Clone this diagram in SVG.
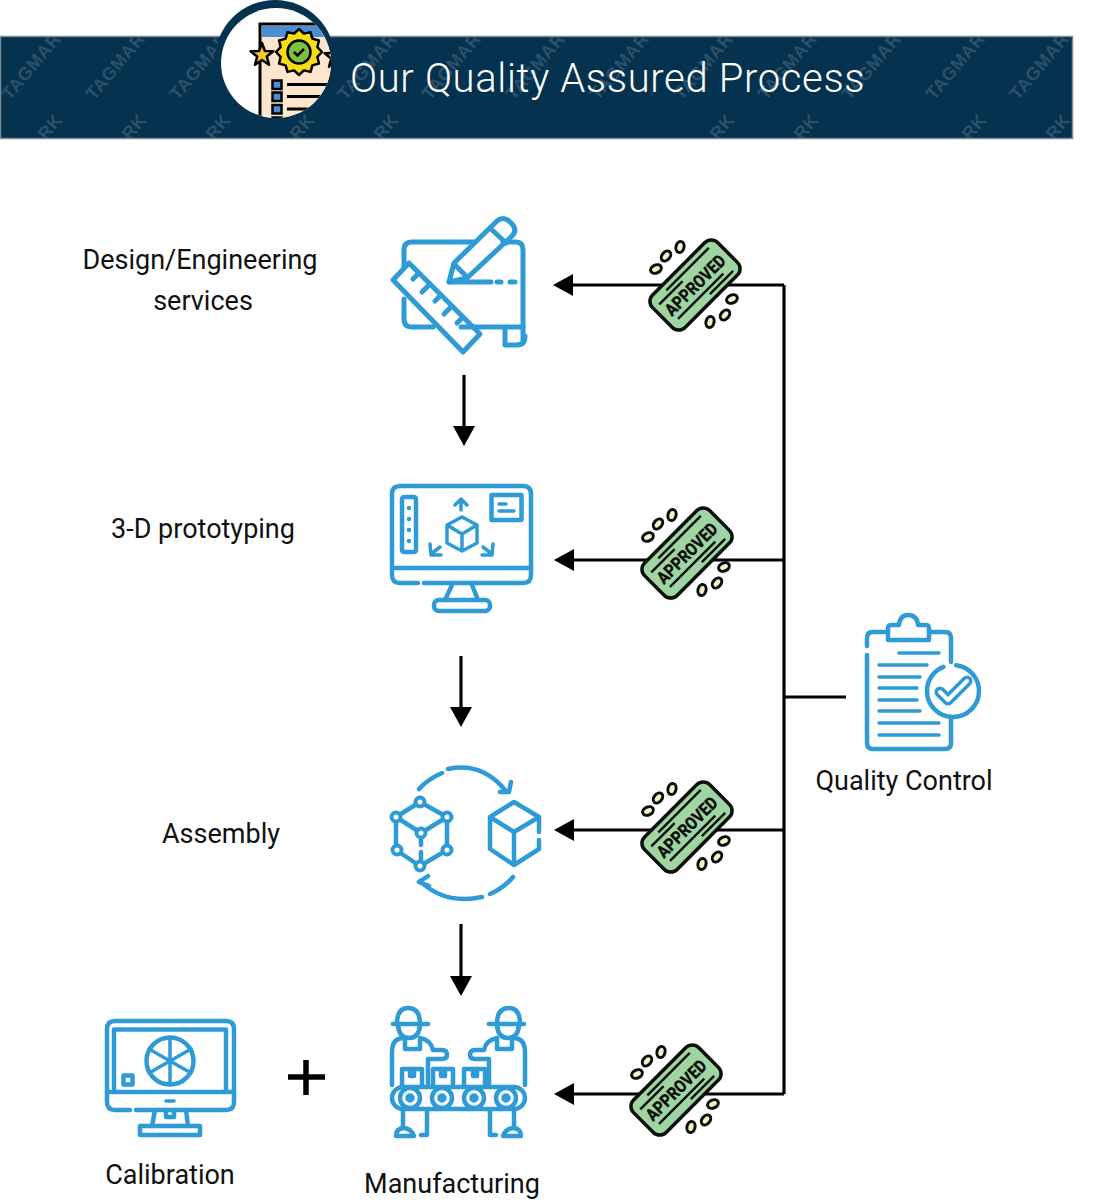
<svg xmlns="http://www.w3.org/2000/svg" width="1104" height="1200" viewBox="0 0 1104 1200">
<style>
.ic{fill:none;stroke:#2f9bd6;stroke-width:4.5;stroke-linecap:round;stroke-linejoin:round}
.thin{stroke-width:3.5}
.thick{stroke-width:5}
.lb{font-family:Roboto,"Liberation Sans",sans-serif;font-size:27px;fill:#111;text-anchor:middle}
.wm{font-family:"Liberation Sans",sans-serif;font-weight:bold;font-size:18px;fill:#2c5069;letter-spacing:.5px}
.cn{fill:none;stroke:#000;stroke-width:3.2}
.st{font-family:Roboto,"Liberation Sans",sans-serif;font-weight:900;font-size:18px;fill:#0a0f0a;text-anchor:middle}
.k{stroke:#000;fill:none}
</style>
<defs>
<marker id="ah" markerUnits="userSpaceOnUse" markerWidth="20" markerHeight="24" refX="1" refY="11" orient="auto"><path d="M0 0L20 11L0 22Z" fill="#000"/></marker>
<clipPath id="band"><rect x="1" y="37" width="1071" height="101"/></clipPath>
<clipPath id="disc"><circle cx="276" cy="63" r="55"/></clipPath>
<g id="stampart">
<rect x="-46" y="-23" width="92" height="46" rx="9" fill="#9fd4a3" stroke="#0a0f0a" stroke-width="3.500"/>
<path d="M-24 -16.500H36M-39 -11.500H-6M-36 12H28M4 17H37" stroke="#0a0f0a" stroke-width="2.400" fill="none"/>
</g>
<g id="dots" fill="#f3f2c8" stroke="#0a0f0a" stroke-width="3">
<ellipse cx="-39" cy="-16" rx="5.600" ry="4" transform="rotate(-25 -39 -16)"/>
<ellipse cx="-29" cy="-29" rx="5.600" ry="4" transform="rotate(-50 -29 -29)"/>
<ellipse cx="-15" cy="-38" rx="5.600" ry="4" transform="rotate(-75 -15 -38)"/>
<ellipse cx="37" cy="14" rx="5.600" ry="4" transform="rotate(-25 37 14)"/>
<ellipse cx="30" cy="30" rx="5.600" ry="4" transform="rotate(-50 30 30)"/>
<ellipse cx="15" cy="37" rx="5.600" ry="4" transform="rotate(-75 15 37)"/>
</g>
<g id="worker">
<path d="M392 1085V1052Q392 1038 404 1038M420 1038Q431 1040 433 1050H442Q447 1050 447 1055Q447 1059 442 1059H428V1084"/>
<path d="M405 1039V1049H420V1039"/>
<path d="M397 1024Q397 1008 408 1008Q420 1008 420 1024M393 1024H428M398 1025Q399 1038 409 1038Q419 1038 420 1025"/>
<path d="M403 1110V1128M427 1110V1135H421"/>
<path d="M396 1136Q396 1129 403 1128Q411 1128 414 1136Z"/>
</g>
</defs>

<g id="header">
<rect x="0.500" y="36.500" width="1072" height="102" fill="#05324f" stroke="#7b8c98" stroke-width="1.500"/>
<g clip-path="url(#band)">
<g id="watermarks">
<text class="wm" transform="translate(10 101) rotate(-50)">TAGMARK</text>
<text class="wm" transform="translate(94 101) rotate(-50)">TAGMARK</text>
<text class="wm" transform="translate(178 101) rotate(-50)">TAGMARK</text>
<text class="wm" transform="translate(346 101) rotate(-50)">TAGMARK</text>
<text class="wm" transform="translate(430 101) rotate(-50)">TAGMARK</text>
<text class="wm" transform="translate(514 101) rotate(-50)">TAGMARK</text>
<text class="wm" transform="translate(598 101) rotate(-50)">TAGMARK</text>
<text class="wm" transform="translate(682 101) rotate(-50)">TAGMARK</text>
<text class="wm" transform="translate(766 101) rotate(-50)">TAGMARK</text>
<text class="wm" transform="translate(850 101) rotate(-50)">TAGMARK</text>
<text class="wm" transform="translate(934 101) rotate(-50)">TAGMARK</text>
<text class="wm" transform="translate(1018 101) rotate(-50)">TAGMARK</text>
<text class="wm" transform="translate(46 141) rotate(-50)">RK</text>
<text class="wm" transform="translate(130 141) rotate(-50)">RK</text>
<text class="wm" transform="translate(214 141) rotate(-50)">RK</text>
<text class="wm" transform="translate(298 141) rotate(-50)">RK</text>
<text class="wm" transform="translate(382 141) rotate(-50)">RK</text>
<text class="wm" transform="translate(718 141) rotate(-50)">RK</text>
<text class="wm" transform="translate(802 141) rotate(-50)">RK</text>
<text class="wm" transform="translate(970 141) rotate(-50)">RK</text>
<text class="wm" transform="translate(1054 141) rotate(-50)">RK</text>
</g>
</g>
<circle cx="275" cy="60" r="60" fill="#05324f"/>
<circle cx="276" cy="63" r="55" fill="#fff"/>
<g clip-path="url(#disc)">
<rect x="260" y="24" width="90" height="100" fill="#fde6cb" stroke="#000" stroke-width="3"/>
<rect x="262" y="26" width="88" height="11" fill="#4a8fd6"/>
<g transform="translate(299 52)"><polygon points="23,0 18.400,4.900 19.900,11.500 13.400,13.400 11.500,19.900 4.900,18.400 0,23 -4.900,18.400 -11.500,19.900 -13.400,13.400 -19.900,11.500 -18.400,4.900 -23,0 -18.400,-4.900 -19.900,-11.500 -13.400,-13.400 -11.500,-19.900 -4.900,-18.400 0,-23 4.900,-18.400 11.500,-19.900 13.400,-13.400 19.900,-11.500 18.400,-4.900" fill="#f6dc13" stroke="#000" stroke-width="2.500" stroke-linejoin="round"/>
<circle r="11.500" fill="#7cc142" stroke="#000" stroke-width="2.500"/><path d="M-5 0L-1.500 3.500L5 -3" class="k" stroke-width="2.500"/></g>
<polygon transform="translate(262 55)" points="0,-12 2.900,-4 11.400,-3.700 4.800,1.500 7,9.700 0,5 -7,9.700 -4.800,1.500 -11.400,-3.700 -2.900,-4" fill="#fbc92c" stroke="#000" stroke-width="2.500" stroke-linejoin="round"/>
<polygon transform="translate(336 57)" points="0,-12 2.900,-4 11.400,-3.700 4.800,1.500 7,9.700 0,5 -7,9.700 -4.800,1.500 -11.400,-3.700 -2.900,-4" fill="#fbc92c" stroke="#000" stroke-width="2.500" stroke-linejoin="round"/>
<g fill="#4a8fd6" stroke="#000" stroke-width="2.500"><rect x="272.500" y="80.500" width="9" height="8.500"/><rect x="272.500" y="92.500" width="9" height="8.500"/><rect x="272.500" y="105" width="9" height="8.500"/><rect x="272.500" y="117.500" width="9" height="8.500"/></g>
<path d="M287 84.500H330M287 96.500H330M287 109H330" class="k" stroke-width="2.800"/>
</g>
<text x="350" y="92" font-family="Roboto,'Liberation Sans',sans-serif" font-size="40" font-weight="300" letter-spacing="0.650" fill="#fff">Our Quality Assured Process</text>
</g>

<g id="connectors">
<path class="cn" d="M784 285V1094"/>
<path class="cn" d="M784 285H572" marker-end="url(#ah)"/>
<path class="cn" d="M784 560H573" marker-end="url(#ah)"/>
<path class="cn" d="M784 830H573" marker-end="url(#ah)"/>
<path class="cn" d="M784 1094H573" marker-end="url(#ah)"/>
<path class="cn" d="M785 697H846"/>
<path class="cn" d="M464 375V427" marker-end="url(#ah)"/>
<path class="cn" d="M461 656V708" marker-end="url(#ah)"/>
<path class="cn" d="M461 924V977" marker-end="url(#ah)"/>
</g>

<g id="stamp-1"><g transform="translate(695 285) rotate(-45)"><use href="#stampart"/></g><use href="#dots" x="695" y="285"/><text class="st" transform="translate(695 285) rotate(-45)" y="6.500" textLength="78" lengthAdjust="spacingAndGlyphs">APPROVED</text></g>
<g id="stamp-2"><g transform="translate(687 553) rotate(-45)"><use href="#stampart"/></g><use href="#dots" x="687" y="553"/><text class="st" transform="translate(687 553) rotate(-45)" y="6.500" textLength="78" lengthAdjust="spacingAndGlyphs">APPROVED</text></g>
<g id="stamp-3"><g transform="translate(687 827) rotate(-45)"><use href="#stampart"/></g><use href="#dots" x="687" y="827"/><text class="st" transform="translate(687 827) rotate(-45)" y="6.500" textLength="78" lengthAdjust="spacingAndGlyphs">APPROVED</text></g>
<g id="stamp-4"><g transform="translate(676 1090) rotate(-45)"><use href="#stampart"/></g><use href="#dots" x="676" y="1090"/><text class="st" transform="translate(676 1090) rotate(-45)" y="6.500" textLength="78" lengthAdjust="spacingAndGlyphs">APPROVED</text></g>

<g id="design">
<g class="ic thick">
<path d="M404 267V250Q404 242 412 242H474M503 242H516Q523 242 523 250V340"/>
<path d="M404 299V319Q404 327 412 327H433M461 327H523"/>
<path d="M505 327V345H517Q525 345 525 336"/>
<path d="M393 280L409 263L480 334L463 352Z"/>
<path d="M419 273L413 279M430 284L422 292M441 295L435 301M452 306L444 314M463 317L457 323"/>
<path d="M449 282L454 263L497 221Q503 216 509 221L513 225Q517 231 512 236L467 278Z"/>
<path d="M454 264L467 277M490 228L506 243"/>
<path d="M449 282H491M497 282H501M510 282H515"/>
</g>
</g>

<g id="prototyping">
<g class="ic">
<path d="M418 583H400Q392 583 392 575V494Q392 486 400 486H523Q531 486 531 494V575Q531 583 523 583H424"/>
<path d="M392 568H531"/>
<path d="M452 585L445 600M472 585L478 600"/>
<rect x="434" y="600" width="56" height="11" rx="5"/>
<rect x="402" y="497" width="14" height="55" rx="2"/>
<rect x="491.500" y="495" width="30" height="25"/>
<path class="thin" d="M499 504H506M499 511H514"/>
<path class="thin" d="M462 517L477 525V543L462 551L447 543V525ZM447 525L462 534L477 525M462 534V551"/>
<path class="thin" d="M461 510V500M455 505L461 499L467 505"/>
<path class="thin" d="M440 547L431 554M430 544L431 555L441 555"/>
<path class="thin" d="M483 547L492 554M493 544L492 555L482 555"/>
</g>
<path d="M409 508v.1M409 519v.1M409 530v.1M409 541v.1" class="ic"/>
</g>

<g id="assembly">
<g class="ic">
<path d="M419 789Q428 779 442 773M448 769Q482 762 505 790M511 782L509 792L500 792"/>
<path d="M513 877Q504 888 490 894M482 897Q445 905 420 881M428 876L419 882L429 886"/>
<path d="M420 802L396 817V850L420 866L447 850V817ZM396 817L421 833L447 817M421 833V845M421 852V866"/>
<path d="M539 840V849L514 865L490 849V817L514 802L539 817V832M490 817L514 832L539 817M514 832V865"/>
</g>
<g fill="#fff" stroke="#2f9bd6" stroke-width="4"><circle cx="420" cy="802" r="4.500"/><circle cx="396" cy="817" r="4.500"/><circle cx="447" cy="817" r="4.500"/><circle cx="397" cy="850" r="4.500"/><circle cx="447" cy="850" r="4.500"/><circle cx="420" cy="866" r="4.500"/><circle cx="421" cy="833" r="4.500"/></g>
</g>

<g id="calibration">
<g class="ic">
<path d="M130 1110H115Q107 1110 107 1102V1029Q107 1021 115 1021H226Q234 1021 234 1029V1102Q234 1110 226 1110H136"/>
<path d="M114 1092V1029.500H226V1092M107 1092H234"/>
<circle cx="170" cy="1061" r="23.500"/>
<path class="thin" d="M170 1037V1085M149 1049L191 1073M149 1073L191 1049"/>
<rect x="123.500" y="1075.500" width="9" height="9"/>
<path class="thin" d="M166 1101H174"/>
<path d="M155 1110L152 1126M186 1110L188 1126M166 1110V1117H174V1110"/>
<rect x="140" y="1126" width="60" height="9"/>
</g>
</g>

<path id="plus" d="M288 1077H325M306 1060V1095" fill="none" stroke="#000" stroke-width="5.500"/>

<g id="manufacturing">
<g class="ic">
<use href="#worker"/>
<use href="#worker" transform="translate(917 0) scale(-1 1)"/>
<path d="M402 1085V1069H422V1085M433 1085V1069H453V1085M464 1085V1069H485V1085"/>
<path d="M410 1069V1076H414V1069M441 1069V1076H445V1069M473 1069V1076H477V1069"/>
<rect x="392" y="1087" width="133" height="22" rx="11"/>
<circle cx="410" cy="1098" r="10"/><circle cx="442" cy="1098" r="10"/><circle cx="474" cy="1098" r="10"/><circle cx="506" cy="1098" r="10"/>
<circle cx="410" cy="1098" r="2.500"/><circle cx="442" cy="1098" r="2.500"/><circle cx="474" cy="1098" r="2.500"/><circle cx="506" cy="1098" r="2.500"/>
</g>
</g>

<g id="quality-control">
<g class="ic">
<path d="M867 646V638Q867 632 873 632H888M929 632H945Q951 632 951 638V662M867 655V743Q867 749 873 749H945Q951 749 951 743V718"/>
<path d="M888 640V628Q888 625 892 625H899Q900 615 908 615Q917 615 918 625H925Q929 625 929 628V640Z"/>
<circle cx="953" cy="691" r="26" stroke-dasharray="150 13" stroke-dashoffset="-125"/>
</g>
<g class="ic thin">
<path d="M899 653H939M879 665H927M879 677H920M879 688H917M879 700H917M879 711H920M879 723H939M879 735H939"/>
</g>
<path d="M940 692L948 700L967 681" fill="none" stroke="#2f9bd6" stroke-width="11" stroke-linecap="round" stroke-linejoin="round"/>
<path d="M940 692L948 700L967 681" fill="none" stroke="#fff" stroke-width="4" stroke-linecap="round" stroke-linejoin="round"/>
</g>

<g id="labels">
<text class="lb" x="200" y="269">Design/Engineering</text>
<text class="lb" x="203" y="310">services</text>
<text class="lb" x="203" y="538">3-D prototyping</text>
<text class="lb" x="221" y="843">Assembly</text>
<text class="lb" x="170" y="1184">Calibration</text>
<text class="lb" x="452" y="1193">Manufacturing</text>
<text class="lb" x="904" y="790">Quality Control</text>
</g>
</svg>
